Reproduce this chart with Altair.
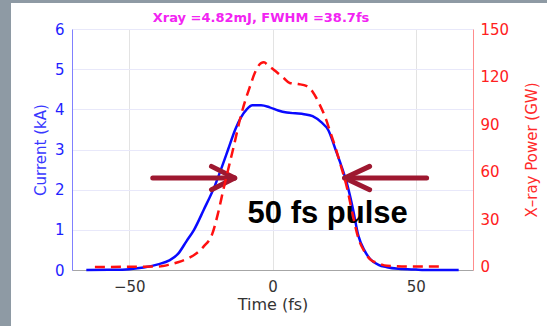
import altair as alt
import pandas as pd

# ---- data ----
time_blue = [-65, -55, -50, -45, -40, -36, -33, -30, -27.4, -24,
             -20, -17.5, -15.5, -13, -11, -9, -7, -4, -1, 2,
             5, 8, 11, 14, 17, 19.5, 22, 24, 26, 28,
             30, 32, 34, 37, 40, 44, 50, 55, 65]
current_ka = [0, 0.005, 0.02, 0.06, 0.14, 0.24, 0.4, 0.72, 1.0, 1.5,
              2.12, 2.6, 3.0, 3.5, 3.8, 4.0, 4.1, 4.1, 4.05, 3.97,
              3.92, 3.9, 3.88, 3.83, 3.68, 3.48, 3.0, 2.6, 2.15, 1.55,
              0.85, 0.5, 0.28, 0.13, 0.07, 0.03, 0.01, 0, 0]

time_red = [-62, -40, -36, -33, -30, -27, -24, -21, -19, -17,
            -15, -13.4, -11.5, -10, -8, -6, -4, -3, -1.5, 0,
            2, 4, 6, 9, 12, 14, 16.3, 18.7, 20, 22.2,
            24, 26, 28, 30, 32, 34, 37, 40, 50, 59]
power_gw = [0, 0.3, 1.5, 3, 5, 8, 13, 21, 34, 50,
            65, 77, 92, 102, 113, 123, 128.5, 129, 127, 125,
            122, 119, 116, 115.3, 114, 110.5, 103, 93, 86, 74,
            63, 50, 33, 18, 10, 5, 2.3, 0.8, 0.3, 0.3]

x_ticks = [-50, 0, 50]
left_ticks = [0, 1, 2, 3, 4, 5, 6]
right_ticks = [0, 30, 60, 90, 120, 150]

# annotation arrows (data units: fs, kA)
seg_x1 = [-41.8, -21.3, -21.3, 53.8, 33.9, 33.9]
seg_x2 = [-13.6, -13.2, -13.2, 25.6, 25.2, 25.2]
seg_y1 = [2.29, 2.58, 2.00, 2.29, 2.58, 2.00]
seg_y2 = [2.29, 2.29, 2.29, 2.29, 2.29, 2.29]
label_text = ["50 fs pulse"]
label_x = [-8.7]
label_y = [1.17]

title_text = ["Xray =4.82mJ, FWHM =38.7fs"]

df_blue = pd.DataFrame({"t": time_blue, "I": current_ka})
df_red = pd.DataFrame({"t": time_red, "P": power_gw})
df_seg = pd.DataFrame({"x1": seg_x1, "x2": seg_x2, "y1": seg_y1, "y2": seg_y2})
df_lab = pd.DataFrame({"x": label_x, "y": label_y, "text": label_text})
df_title = pd.DataFrame({"text": title_text})

W, H = 401, 241
FONT = "DejaVu Sans"

x_scale = alt.Scale(domain=[-70, 70], nice=False, zero=False)
yl_scale = alt.Scale(domain=[0, 6], nice=False)
yr_scale = alt.Scale(domain=[-1.9, 150], nice=False, zero=False)

x_axis = alt.Axis(values=x_ticks, title="Time (fs)", grid=True, gridColor="#E3E3E3",
                  domainColor="#A6A6A6", ticks=False, labelColor="#333333",
                  labelFontSize=15, labelFont=FONT, labelPadding=9,
                  titleFontSize=16, titleFont=FONT, titleColor="#333333",
                  titleFontWeight="normal", titleY=34, titleBaseline="middle")
yl_axis = alt.Axis(orient="left", values=left_ticks, title="Current (kA)", grid=True,
                   gridColor="#E8E8FA", domainColor="#8080FF", ticks=False,
                   labelColor="#1F1FFF", labelFontSize=15, labelFont=FONT, labelPadding=8,
                   titleFontSize=15, titleFont=FONT, titleColor="#3838FF",
                   titleFontWeight="normal", titleX=-32, titleY=H / 2,
                   titleBaseline="middle", titleAngle=270)
yr_axis = alt.Axis(orient="right", values=right_ticks, title="X\u2013ray Power (GW)", grid=False,
                   domainColor="#FF8C8C", ticks=False, labelColor="#FF2020",
                   labelFontSize=15, labelFont=FONT, labelPadding=7,
                   titleFontSize=15, titleFont=FONT, titleColor="#FF2A2A",
                   titleFontWeight="normal", titleX=58, titleY=H / 2,
                   titleBaseline="middle", titleAngle=270)

dummy = alt.Data(values=[{}])
gray = "#8E9AA4"
strip_left = alt.Chart(dummy).mark_rect(color=gray).encode(
    x=alt.value(-72), x2=alt.value(-61), y=alt.value(-29), y2=alt.value(H + 56))
strip_top = alt.Chart(dummy).mark_rect(color=gray).encode(
    x=alt.value(-72), x2=alt.value(W + 74), y=alt.value(-29), y2=alt.value(-26))

title = alt.Chart(df_title).mark_text(font=FONT, fontSize=13, fontWeight="bold", color="#F224F2",
                                      align="center", baseline="middle").encode(
    x=alt.value(189), y=alt.value(-11), text="text:N")

blue = alt.Chart(df_blue).mark_line(color="#0A0AFF", strokeWidth=2.5, interpolate="monotone").encode(
    x=alt.X("t:Q", scale=x_scale, axis=x_axis),
    y=alt.Y("I:Q", scale=yl_scale, axis=yl_axis),
)

arrows = alt.Chart(df_seg).mark_rule(color="#9E1830", strokeWidth=5, strokeCap="round").encode(
    x=alt.X("x1:Q", scale=x_scale, axis=x_axis), x2="x2:Q",
    y=alt.Y("y1:Q", scale=yl_scale, axis=yl_axis), y2="y2:Q")

label = alt.Chart(df_lab).mark_text(font="Liberation Sans", fontWeight="bold", fontSize=31,
                                    color="#000000", align="left", baseline="alphabetic").encode(
    x=alt.X("x:Q", scale=x_scale, axis=x_axis),
    y=alt.Y("y:Q", scale=yl_scale, axis=yl_axis),
    text="text:N")

red = alt.Chart(df_red).mark_line(color="#FF1010", strokeWidth=2.5, strokeDash=[10, 6],
                                  interpolate="monotone").encode(
    x=alt.X("t:Q", scale=x_scale, axis=x_axis),
    y=alt.Y("P:Q", scale=yr_scale, axis=yr_axis),
)

inner = alt.layer(strip_left, strip_top, title, blue, arrows, label)

chart = alt.layer(inner, red).resolve_scale(y="independent").properties(
    width=W, height=H,
    padding={"left": 72, "top": 29, "right": 74, "bottom": 56},
    autosize="none",
    background="white",
).configure_view(stroke=None)

chart.save("out.html", embed_options={"renderer": "svg", "actions": False})
